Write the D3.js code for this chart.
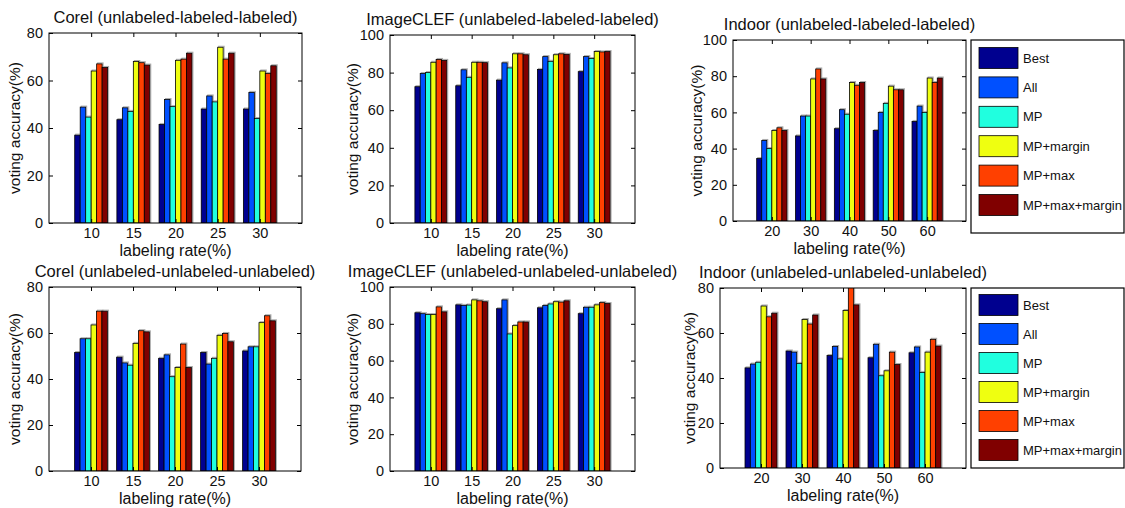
<!DOCTYPE html>
<html>
<head>
<meta charset="utf-8">
<script src="https://cdn.jsdelivr.net/npm/d3@7"></script>
<style>
  body { margin: 0; background: #fff; }
  svg { font-family: "Liberation Sans", Arial, sans-serif; }
</style>
</head>
<body>
<div id="chart"></div>
<script>
// series (legend order) and colours (matlab jet, 6 levels)
const methods = ['Best', 'All', 'MP', 'MP+margin', 'MP+max', 'MP+max+margin'];
const colors = ['#00008f', '#0050ff', '#20ffdf', '#efff10', '#ff4000', '#800000'];

const ratesCorel = ['10', '15', '20', '25', '30'];
const ratesIndoor = ['20', '30', '40', '50', '60'];

const ticks80 = [0, 20, 40, 60, 80];
const ticks100 = [0, 20, 40, 60, 80, 100];

// one row per labeling rate, values in method order
const corelLL = [
  [37, 48.8, 44.6, 64, 67, 65.5],
  [43.5, 48.5, 47, 68, 67.5, 66.5],
  [41.5, 52, 49, 68.5, 69, 71.5],
  [48, 53.5, 51, 74, 69, 71.5],
  [48, 55, 44, 64, 63, 66.2]
];
const clefLL = [
  [72.5, 79.5, 80, 85.5, 87, 86.5],
  [73, 81.5, 77.5, 85.5, 85.5, 85.3],
  [76, 85.2, 82.5, 90, 90, 89.5],
  [81.7, 88.5, 86, 89.5, 90, 89.7],
  [80.5, 88.5, 87.5, 91.2, 91, 91.2]
];
const indoorLL = [
  [34.5, 44.5, 40, 50, 51.5, 50],
  [47, 58, 58, 78.5, 84, 78.5],
  [51, 61.5, 59, 76.5, 75, 76.5],
  [50, 60, 65, 74.5, 72.5, 72.5],
  [55, 63.5, 60, 79, 76.5, 79]
];
const corelUU = [
  [51.5, 57.5, 57.5, 63.5, 69.5, 69.5],
  [49.5, 47, 46, 55.5, 61, 60.5],
  [49, 50.5, 41, 45, 55.2, 45],
  [51.5, 46.5, 49, 59, 59.8, 56.2],
  [52.2, 54, 54, 64.5, 67.5, 65.3]
];
const clefUU = [
  [86, 85.5, 85, 85, 89.2, 86.5],
  [90.3, 90, 90.2, 93, 92.5, 92],
  [88.2, 93, 74.5, 79, 81, 81],
  [88.7, 90, 90.8, 92, 91.8, 92.5],
  [85.5, 89, 89, 90.3, 91.5, 91]
];
const indoorUU = [
  [44.5, 46.2, 47, 72, 67.2, 68.8],
  [52, 51.5, 46.5, 66, 64, 68],
  [50, 54, 48.5, 70, 84, 72.5],
  [49, 55, 41, 43.2, 51.5, 46],
  [51.2, 53.8, 42.5, 51.5, 57.2, 54.2]
];

const W = 1125, H = 508;
const svg = d3.select('#chart').append('svg')
  .attr('width', W).attr('height', H);

// clip ids need to be unique
let clipCount = 0;

function drawPanel(cfg) {
  const {box, title, rates, data, ticks, ymax, ylabelX} = cfg;
  const w = box.right - box.left, h = box.bottom - box.top;
  const g = svg.append('g').attr('transform', `translate(${box.left},${box.top})`);

  const x = d3.scalePoint().domain(rates).range([0, w]).padding(1);
  const xin = d3.scaleBand().domain(methods)
    .range([-x.step() * 0.39, x.step() * 0.39]).padding(0);
  const y = d3.scaleLinear().domain([0, ymax]).range([h, 0]);

  const cid = 'clip' + (clipCount++);
  g.append('clipPath').attr('id', cid)
    .append('rect').attr('x', 0).attr('y', 0).attr('width', w).attr('height', h);

  const bars = g.append('g').attr('clip-path', `url(#${cid})`);
  const groups = bars.selectAll('.grp')
    .data(rates.map((r, i) => ({rate: r, vals: data[i]})))
    .join('g').attr('class', 'grp')
    .attr('transform', d => `translate(${x(d.rate)},0)`);

  // faint grey shadow like the matlab export
  groups.selectAll('rect.shadow')
    .data(d => d.vals.map((v, k) => ({m: methods[k], v, k})))
    .join('rect').attr('class', 'shadow')
    .attr('x', d => xin(d.m) + 1)
    .attr('y', d => y(d.v) - 1)
    .attr('width', xin.bandwidth())
    .attr('height', d => h - y(d.v) + 1)
    .attr('fill', 'none').attr('stroke', '#aaa').attr('stroke-width', 1);

  groups.selectAll('rect.bar')
    .data(d => d.vals.map((v, k) => ({m: methods[k], v, k})))
    .join('rect').attr('class', 'bar')
    .attr('x', d => xin(d.m))
    .attr('y', d => y(d.v))
    .attr('width', xin.bandwidth())
    .attr('height', d => h - y(d.v))
    .attr('fill', d => colors[d.k])
    .attr('stroke', '#000').attr('stroke-width', 0.8);

  // axes, ticks pointing inward on all sides
  const yl = g.append('g').call(d3.axisLeft(y).tickValues(ticks).tickSizeInner(-4).tickSizeOuter(0).tickPadding(6));
  const yr = g.append('g').attr('transform', `translate(${w},0)`)
    .call(d3.axisRight(y).tickValues(ticks).tickSizeInner(-4).tickSizeOuter(0).tickFormat(''));
  const xb = g.append('g').attr('transform', `translate(0,${h})`)
    .call(d3.axisBottom(x).tickSizeInner(-4).tickSizeOuter(0).tickPadding(5));
  const xt = g.append('g')
    .call(d3.axisTop(x).tickSizeInner(-4).tickSizeOuter(0).tickFormat(''));
  [yl, yr, xb, xt].forEach(a => {
    a.select('.domain').remove();
    a.selectAll('line').attr('stroke', '#000');
    a.selectAll('text').attr('font-size', 14.5).attr('fill', '#111')
      .attr('font-family', '"Liberation Sans", Arial, sans-serif');
  });
  g.append('rect').attr('width', w).attr('height', h)
    .attr('fill', 'none').attr('stroke', '#000').attr('stroke-width', 1);

  g.append('text').attr('x', w / 2).attr('y', -10)
    .attr('text-anchor', 'middle').attr('font-size', 16.5).attr('fill', '#111')
    .text(title);
  g.append('text').attr('x', w / 2).attr('y', h + 33)
    .attr('text-anchor', 'middle').attr('font-size', 16).attr('fill', '#111')
    .text('labeling rate(%)');
  g.append('text')
    .attr('transform', `translate(${ylabelX - box.left},${h / 2}) rotate(-90)`)
    .attr('text-anchor', 'middle').attr('dy', '0.35em')
    .attr('font-size', 15.5).attr('fill', '#111')
    .text('voting accuracy(%)');
}

function drawLegend(box) {
  const g = svg.append('g').attr('transform', `translate(${box.left},${box.top})`);
  const w = box.right - box.left, h = box.bottom - box.top;
  g.append('rect').attr('width', w).attr('height', h)
    .attr('fill', '#fff').attr('stroke', '#000').attr('stroke-width', 1.2);
  const ly = d3.scalePoint().domain(methods).range([box.first, box.last]);
  const items = g.selectAll('.item').data(methods).join('g')
    .attr('transform', d => `translate(0,${ly(d)})`);
  items.append('rect').attr('x', 8).attr('y', -10.5)
    .attr('width', 39).attr('height', 21)
    .attr('fill', (d, i) => colors[i]).attr('stroke', '#000').attr('stroke-width', 0.8);
  items.append('text').attr('x', 52).attr('dy', '0.35em')
    .attr('font-size', 13).attr('fill', '#111').text(d => d);
}

drawPanel({box: {left: 49, right: 302, top: 33, bottom: 223},
  title: 'Corel (unlabeled-labeled-labeled)', rates: ratesCorel, data: corelLL,
  ticks: ticks80, ymax: 80, ylabelX: 15});
drawPanel({box: {left: 390, right: 635, top: 35, bottom: 223},
  title: 'ImageCLEF (unlabeled-labeled-labeled)', rates: ratesCorel, data: clefLL,
  ticks: ticks100, ymax: 100, ylabelX: 353});
drawPanel({box: {left: 733, right: 966, top: 40, bottom: 221},
  title: 'Indoor  (unlabeled-labeled-labeled)', rates: ratesIndoor, data: indoorLL,
  ticks: ticks100, ymax: 100, ylabelX: 697});
drawPanel({box: {left: 49, right: 301, top: 287, bottom: 471},
  title: 'Corel (unlabeled-unlabeled-unlabeled)', rates: ratesCorel, data: corelUU,
  ticks: ticks80, ymax: 80, ylabelX: 15});
drawPanel({box: {left: 390, right: 635, top: 287, bottom: 471},
  title: 'ImageCLEF (unlabeled-unlabeled-unlabeled)', rates: ratesCorel, data: clefUU,
  ticks: ticks100, ymax: 100, ylabelX: 353});
drawPanel({box: {left: 720, right: 966, top: 288, bottom: 468},
  title: 'Indoor  (unlabeled-unlabeled-unlabeled)', rates: ratesIndoor, data: indoorUU,
  ticks: ticks80, ymax: 80, ylabelX: 690});

drawLegend({left: 971, right: 1124, top: 40, bottom: 233, first: 18, last: 165});
drawLegend({left: 971, right: 1124, top: 288, bottom: 468, first: 17, last: 162});
</script>
</body>
</html>
